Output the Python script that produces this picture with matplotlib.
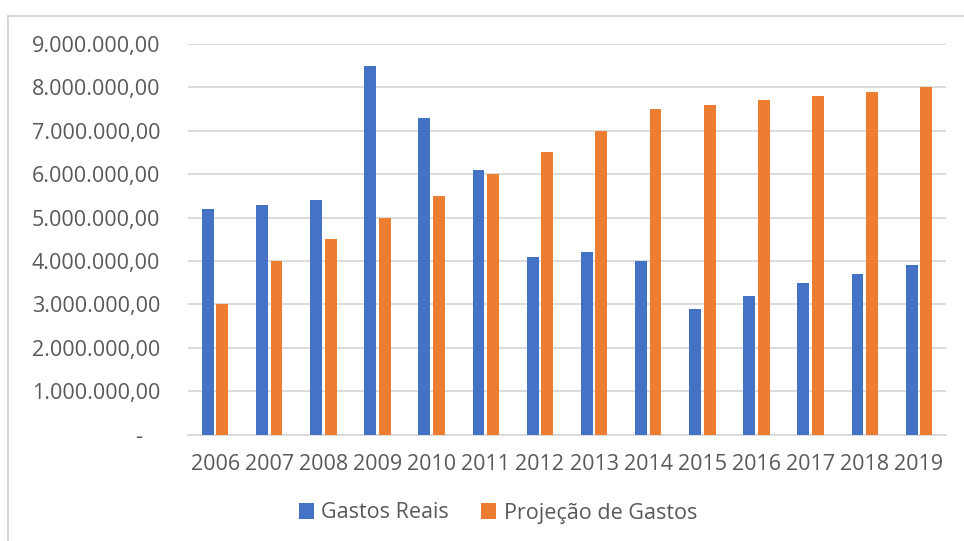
import matplotlib
matplotlib.use("Agg")
import matplotlib.pyplot as plt
import numpy as np
from matplotlib.lines import Line2D
from matplotlib.ticker import FuncFormatter, MultipleLocator

years = ["2006", "2007", "2008", "2009", "2010", "2011", "2012", "2013",
         "2014", "2015", "2016", "2017", "2018", "2019"]
gastos_reais = [5.2e6, 5.3e6, 5.4e6, 8.5e6, 7.3e6, 6.1e6, 4.1e6, 4.2e6,
                4.0e6, 2.9e6, 3.2e6, 3.5e6, 3.7e6, 3.9e6]
projecao_gastos = [3.0e6, 4.0e6, 4.5e6, 5.0e6, 5.5e6, 6.0e6, 6.5e6, 7.0e6,
                   7.5e6, 7.6e6, 7.7e6, 7.8e6, 7.9e6, 8.0e6]
series_names = ["Gastos Reais", "Projeção de Gastos"]

BLUE = "#4472C4"
ORANGE = "#ED7D31"
TEXT = "#595959"
GRID = "#D9D9D9"

plt.rcParams['font.family'] = ['Open Sans', 'DejaVu Sans']

W, H = 964, 541
fig = plt.figure(figsize=(W / 100, H / 100), dpi=100)
fig.patch.set_facecolor("white")

left, right, top, bottom = 188, 946, 43.8, 434.8
ax = fig.add_axes([left / W, 1 - bottom / H, (right - left) / W, (bottom - top) / H])

x = np.arange(len(years))
bw = 0.22
off = 0.135
ax.bar(x - off, gastos_reais, width=bw, color=BLUE, label=series_names[0], zorder=3)
ax.bar(x + off, projecao_gastos, width=bw, color=ORANGE, label=series_names[1], zorder=3)

ax.set_xlim(-0.5, len(years) - 0.5)
ax.set_ylim(0, 9e6)
ax.yaxis.set_major_locator(MultipleLocator(1e6))


def fmt(v, pos):
    if abs(v) < 1:
        return "-   "
    s = f"{v:,.2f}"
    return s.replace(",", "X").replace(".", ",").replace("X", ".")


ax.yaxis.set_major_formatter(FuncFormatter(fmt))
ax.set_xticks(x)
ax.set_xticklabels(years)

ax.grid(axis="y", color=GRID, linewidth=1.3, zorder=0)
ax.set_axisbelow(True)
for s in ["top", "right", "left"]:
    ax.spines[s].set_visible(False)
ax.spines["bottom"].set_color(GRID)
ax.spines["bottom"].set_linewidth(1.3)
ax.tick_params(axis="both", length=0, colors=TEXT, labelsize=15.5)
ax.tick_params(axis="y", pad=20)
ax.tick_params(axis="x", pad=13.5)

leg = fig.legend(loc="center", bbox_to_anchor=(498 / W, 1 - 513 / H), ncol=2,
                 frameon=False, fontsize=15.5, handlelength=0.7, handleheight=0.7,
                 handletextpad=0.35, columnspacing=1.5)
for t in leg.get_texts():
    t.set_color(TEXT)

# chart area border (left and top visible in reference)
fig.add_artist(Line2D([8 / W, 8 / W], [0, 1 - 16 / H], transform=fig.transFigure,
                      color="#D0D0D0", linewidth=1.2))
fig.add_artist(Line2D([8 / W, 1], [1 - 16 / H, 1 - 16 / H], transform=fig.transFigure,
                      color="#D0D0D0", linewidth=1.2))

fig.savefig("out.png", dpi=100, facecolor="white")
